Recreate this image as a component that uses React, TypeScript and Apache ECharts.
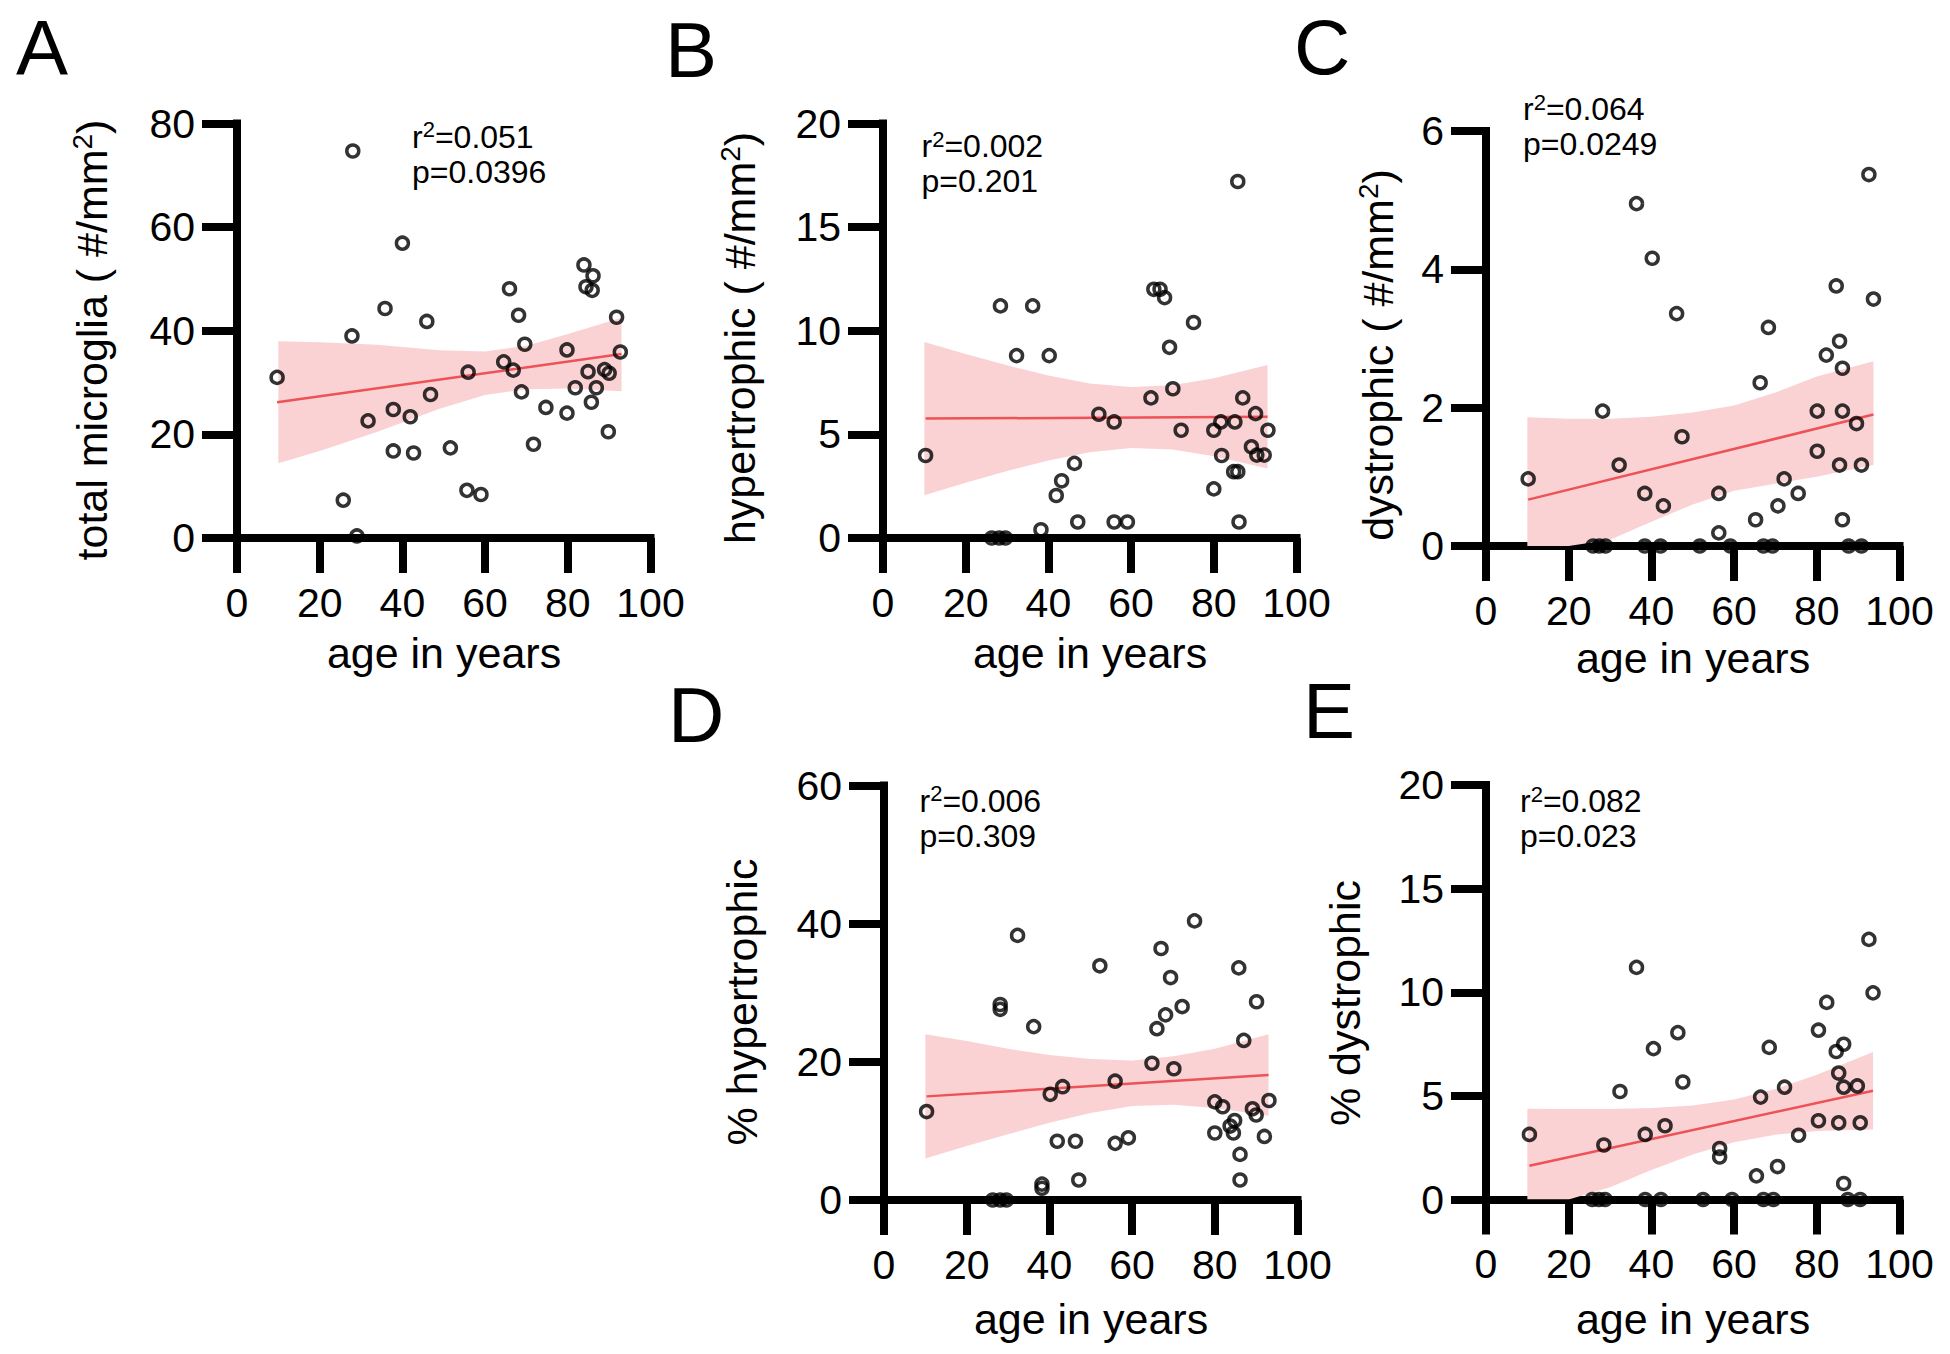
import React, { useEffect, useRef } from "react";
import * as echarts from "echarts";

// ---------- DATA ----------
// Panel A: total microglia (#/mm2)
const agesA = [9.7, 28.0, 27.8, 25.7, 29.0, 31.7, 35.8, 37.8, 37.8, 40.0, 41.9, 42.7, 45.9, 46.8, 51.6, 55.6, 55.9, 59.0, 64.5, 65.9, 66.8, 68.1, 68.8, 69.6, 71.7, 74.7, 79.8, 79.8, 81.8, 83.9, 84.4, 86.1, 85.9, 84.9, 85.7, 86.9, 88.9, 90.0, 89.8, 91.8, 92.7];
const totalMicroglia = [31.0, 74.7, 39.0, 7.3, 0.4, 22.6, 44.3, 24.8, 16.8, 56.9, 23.4, 16.4, 41.8, 27.7, 17.4, 9.2, 32.0, 8.4, 34.0, 48.1, 32.4, 43.0, 28.2, 37.4, 18.1, 25.2, 36.3, 24.1, 29.0, 52.7, 48.5, 50.6, 47.8, 32.1, 26.2, 29.0, 32.5, 31.8, 20.5, 42.6, 35.9];
const fitA = [[9.7, 26.2], [93, 35.5]];
const bandXA = [10, 20, 34, 49, 60, 70, 80, 93];
const bandUpperA = [37.95, 37.8, 37.3, 36.25, 36.0, 37.1, 39.35, 42.5];
const bandLowerA = [14.45, 16.8, 20.5, 24.95, 27.6, 28.7, 28.85, 28.3];

// Panel B: hypertrophic (#/mm2)
const agesB = [10.3, 26.3, 28.1, 29.6, 28.4, 32.3, 36.2, 38.2, 40.2, 41.9, 43.2, 46.3, 47.1, 52.2, 55.9, 55.9, 59.1, 64.8, 65.5, 67.0, 68.1, 69.3, 70.1, 72.1, 75.1, 80.0, 80.0, 81.9, 81.7, 85.1, 85.8, 85.8, 84.8, 86.1, 87.0, 89.1, 90.1, 90.4, 92.2, 93.1];
const hypertrophicDensity = [3.98, 0, 0, 0, 11.2, 8.8, 11.2, 0.4, 8.8, 2.05, 2.76, 3.6, 0.77, 5.97, 5.6, 0.77, 0.77, 6.76, 12.0, 12.0, 11.6, 9.2, 7.2, 5.2, 10.4, 2.37, 5.2, 3.98, 5.6, 5.6, 17.2, 3.2, 3.2, 0.77, 6.76, 4.4, 6.0, 4.0, 4.0, 5.2];
const fitB = [[10.3, 5.76], [93, 5.85]];
const bandXB = [10, 20, 30, 40, 50, 60, 70, 80, 93];
const bandUpperB = [9.46, 8.88, 8.33, 7.84, 7.46, 7.28, 7.37, 7.71, 8.35];
const bandLowerB = [2.06, 2.66, 3.23, 3.74, 4.14, 4.34, 4.27, 3.95, 3.35];

// Panel C: dystrophic (#/mm2)
const agesC = [10.2, 25.9, 27.4, 28.9, 28.2, 32.2, 36.4, 38.4, 38.4, 40.2, 42.2, 42.9, 46.1, 47.4, 51.7, 56.3, 56.3, 59.1, 65.2, 66.3, 67.1, 68.3, 69.3, 70.6, 72.1, 75.5, 80.1, 80.1, 82.3, 84.7, 85.5, 86.2, 86.2, 85.5, 86.2, 87.7, 89.6, 90.8, 90.8, 92.6, 93.7];
const dystrophicDensity = [0.97, 0, 0, 0, 1.95, 1.17, 4.95, 0.76, 0, 4.16, 0, 0.58, 3.36, 1.58, 0, 0.76, 0.19, 0, 0.38, 2.36, 0, 3.16, 0, 0.58, 0.97, 0.76, 1.95, 1.37, 2.76, 3.76, 2.96, 2.57, 1.95, 1.17, 0.38, 0, 1.77, 1.17, 0, 5.37, 3.57];
const fitC = [[10.2, 0.67], [93.7, 1.9]];
const bandXC = [10, 20, 30, 40, 50, 60, 70, 80, 93.7];
const bandUpperC = [1.86, 1.84, 1.84, 1.87, 1.93, 2.03, 2.22, 2.45, 2.67];
const bandLowerC = [0, 0, 0.09, 0.35, 0.6, 0.8, 0.9, 1.0, 1.17];

// Panel D: % hypertrophic
const agesD = [10.3, 26.3, 28.1, 29.6, 28.1, 28.1, 32.3, 36.2, 38.2, 38.2, 40.2, 43.2, 41.9, 46.3, 47.1, 52.2, 55.9, 55.9, 59.1, 64.8, 66.0, 67.0, 68.1, 69.3, 70.1, 72.1, 75.1, 80.0, 80.0, 81.9, 83.7, 84.8, 84.5, 85.8, 87.0, 86.1, 86.1, 89.1, 90.1, 90.0, 92.0, 93.1];
const pctHypertrophic = [12.8, 0, 0, 0, 28.3, 27.6, 38.3, 25.1, 1.7, 2.3, 15.3, 16.4, 8.5, 8.5, 2.9, 33.9, 17.2, 8.2, 9.0, 19.8, 24.8, 36.4, 26.8, 32.2, 19.0, 28.0, 40.4, 14.2, 9.7, 13.5, 10.7, 11.5, 9.7, 33.6, 23.1, 6.6, 2.9, 13.2, 28.7, 12.3, 9.2, 14.4];
const fitD = [[10.3, 15.0], [93, 18.1]];
const bandXD = [10, 20, 30, 40, 50, 60, 70, 80, 93];
const bandUpperD = [24.0, 23.0, 21.9, 21.0, 20.4, 20.2, 20.8, 21.9, 24.0];
const bandLowerD = [6.0, 7.8, 9.5, 11.2, 12.6, 13.6, 13.8, 13.3, 12.2];

// Panel E: % dystrophic
const agesE = [10.5, 25.7, 27.3, 28.8, 28.5, 32.4, 36.4, 38.5, 38.5, 40.5, 42.3, 43.3, 46.4, 47.6, 52.5, 56.5, 56.5, 59.5, 65.4, 66.4, 67.1, 68.5, 69.5, 70.5, 72.2, 75.6, 80.4, 80.4, 82.4, 84.7, 86.5, 85.3, 86.5, 85.3, 86.5, 87.5, 89.8, 90.5, 90.5, 92.6, 93.6];
const pctDystrophic = [3.14, 0, 0, 0, 2.63, 5.21, 11.2, 3.14, 0, 7.28, 0, 3.56, 8.05, 5.67, 0, 2.46, 2.05, 0, 1.14, 4.94, 0, 7.34, 0, 1.59, 5.42, 3.1, 8.17, 3.8, 9.51, 7.14, 7.49, 6.1, 5.42, 3.7, 0.77, 0, 5.48, 3.7, 0, 12.55, 9.97];
const fitE = [[10.5, 1.63], [93.6, 5.25]];
const bandXE = [10, 20, 30, 40, 50, 60, 70, 80, 93.6];
const bandUpperE = [4.38, 4.37, 4.37, 4.42, 4.53, 4.82, 5.33, 6.02, 7.12];
const bandLowerE = [0, 0, 0.59, 1.42, 2.17, 2.76, 3.13, 3.3, 3.38];

const panelLetters = ["A", "B", "C", "D", "E"];
const yTitles = ["total microglia ( #/mm", "hypertrophic ( #/mm", "dystrophic ( #/mm", "% hypertrophic", "% dystrophic"];
const ySuperscript = [true, true, true, false, false];
const xTitle = "age in years";
const r2Labels = ["0.051", "0.002", "0.064", "0.006", "0.082"];
const pLabels = ["p=0.0396", "p=0.201", "p=0.0249", "p=0.309", "p=0.023"];
const yMaxes = [80, 20, 6, 60, 20];
const yIntervals = [20, 5, 2, 20, 5];
const xMin = 0;
const xMax = 100;
const xInterval = 20;

// ---------- LAYOUT / STYLE ----------
const FONT = "'Liberation Sans', Arial, Helvetica, sans-serif";
const BAND_COLOR = "#fbd2d4";
const FIT_COLOR = "#ec5256";

const grids = [
  { left: 237, top: 123.5, width: 413.5, height: 414.5 },
  { left: 883, top: 123.5, width: 413.5, height: 414.5 },
  { left: 1486, top: 131, width: 413.5, height: 415 },
  { left: 884, top: 785.5, width: 413.5, height: 414.5 },
  { left: 1486, top: 785, width: 413.5, height: 414.5 },
];
const letterPos = [[16, 48], [665, 50], [1294, 47], [668, 715], [1303, 711]];
const yTitlePos = [[92, 340], [740, 338], [1378, 355], [742, 1002], [1345, 1003]];
const xTitlePos = [[444, 653], [1090, 653], [1693, 658], [1091, 1319], [1693, 1319]];
const annoPos = [[412, 136.5], [921.5, 146], [1523, 109], [919.5, 800.7], [1520, 801]];
const ANNO_GAP = 35;

const panels = [
  { ages: agesA, vals: totalMicroglia, fit: fitA, bx: bandXA, bu: bandUpperA, bl: bandLowerA },
  { ages: agesB, vals: hypertrophicDensity, fit: fitB, bx: bandXB, bu: bandUpperB, bl: bandLowerB },
  { ages: agesC, vals: dystrophicDensity, fit: fitC, bx: bandXC, bu: bandUpperC, bl: bandLowerC },
  { ages: agesD, vals: pctHypertrophic, fit: fitD, bx: bandXD, bu: bandUpperD, bl: bandLowerD },
  { ages: agesE, vals: pctDystrophic, fit: fitE, bx: bandXE, bu: bandUpperE, bl: bandLowerE },
];

function buildOption() {
  const axisLine = { show: true, onZero: false, lineStyle: { color: "#000", width: 8, cap: "square" } };
  const axisTick = { show: true, length: 35, lineStyle: { color: "#000", width: 8 } };
  const labelBase = { color: "#000", fontSize: 41, fontFamily: FONT, lineHeight: 41 };

  const xAxis = grids.map((_, i) => ({
    gridIndex: i,
    type: "value",
    min: xMin,
    max: xMax,
    interval: xInterval,
    axisLine,
    axisTick,
    axisLabel: { ...labelBase, margin: 44 },
    splitLine: { show: false },
  }));
  const yAxis = grids.map((_, i) => ({
    gridIndex: i,
    type: "value",
    min: 0,
    max: yMaxes[i],
    interval: yIntervals[i],
    axisLine,
    axisTick,
    axisLabel: { ...labelBase, margin: 42 },
    splitLine: { show: false },
  }));

  const series: any[] = [];
  panels.forEach((p, i) => {
    series.push({
      type: "custom",
      xAxisIndex: i,
      yAxisIndex: i,
      data: [[p.bx[0], p.bl[0]]],
      silent: true,
      clip: true,
      z: 1,
      renderItem: (_params: any, api: any) => {
        const pts: number[][] = [];
        for (let k = 0; k < p.bx.length; k++) pts.push(api.coord([p.bx[k], p.bu[k]]));
        for (let k = p.bx.length - 1; k >= 0; k--) pts.push(api.coord([p.bx[k], p.bl[k]]));
        return { type: "polygon", shape: { points: pts }, style: { fill: BAND_COLOR, stroke: "none" } };
      },
    });
    series.push({
      type: "line",
      xAxisIndex: i,
      yAxisIndex: i,
      data: p.fit,
      symbol: "none",
      lineStyle: { color: FIT_COLOR, width: 2.5 },
      silent: true,
      z: 2,
    });
    series.push({
      type: "scatter",
      xAxisIndex: i,
      yAxisIndex: i,
      data: p.ages.map((a, k) => [a, p.vals[k]]),
      symbol: "circle",
      symbolSize: 12,
      clip: false,
      itemStyle: { color: "rgba(0,0,0,0)", borderColor: "#000", borderWidth: 3.5 },
      z: 3,
    });
  });

  const graphic: any[] = [];
  panelLetters.forEach((L, i) => {
    graphic.push({
      type: "text",
      z: 10,
      x: letterPos[i][0],
      y: letterPos[i][1],
      style: { text: L, fontSize: 78, fontFamily: FONT, fill: "#000", align: "left", verticalAlign: "middle" },
    });
    const yt = ySuperscript[i] ? `{b|${yTitles[i]}}{s|2}{b|)}` : `{b|${yTitles[i]}}`;
    graphic.push({
      type: "text",
      z: 10,
      x: yTitlePos[i][0],
      y: yTitlePos[i][1],
      rotation: Math.PI / 2,
      style: {
        text: yt,
        fontSize: 43,
        fontFamily: FONT,
        fill: "#000",
        align: "center",
        verticalAlign: "middle",
        rich: {
          b: { fontSize: 43, fontFamily: FONT, fill: "#000", lineHeight: 48 },
          s: { fontSize: 28, fontFamily: FONT, fill: "#000", lineHeight: 22, verticalAlign: "top" },
        },
      },
    });
    graphic.push({
      type: "text",
      z: 10,
      x: xTitlePos[i][0],
      y: xTitlePos[i][1],
      style: { text: xTitle, fontSize: 43, fontFamily: FONT, fill: "#000", align: "center", verticalAlign: "middle" },
    });
    graphic.push({
      type: "text",
      z: 10,
      x: annoPos[i][0],
      y: annoPos[i][1],
      style: {
        text: `{b|r}{s|2}{b|=${r2Labels[i]}}`,
        fontSize: 32,
        fontFamily: FONT,
        fill: "#000",
        align: "left",
        verticalAlign: "middle",
        rich: {
          b: { fontSize: 32, fontFamily: FONT, fill: "#000", lineHeight: 36 },
          s: { fontSize: 22, fontFamily: FONT, fill: "#000", lineHeight: 18, verticalAlign: "top" },
        },
      },
    });
    graphic.push({
      type: "text",
      z: 10,
      x: annoPos[i][0],
      y: annoPos[i][1] + ANNO_GAP,
      style: { text: pLabels[i], fontSize: 32, fontFamily: FONT, fill: "#000", align: "left", verticalAlign: "middle" },
    });
  });

  return {
    animation: false,
    backgroundColor: "#fff",
    grid: grids,
    xAxis,
    yAxis,
    series,
    graphic,
  };
}

export default function App() {
  const ref = useRef<HTMLDivElement>(null);
  useEffect(() => {
    if (!ref.current) return;
    const chart = echarts.init(ref.current, undefined, { renderer: "svg" });
    chart.setOption(buildOption() as any);
    return () => chart.dispose();
  }, []);
  return (
    <div
      ref={ref}
      style={{ position: "absolute", left: 0, top: 0, width: 1950, height: 1354, background: "#fff" }}
    />
  );
}
